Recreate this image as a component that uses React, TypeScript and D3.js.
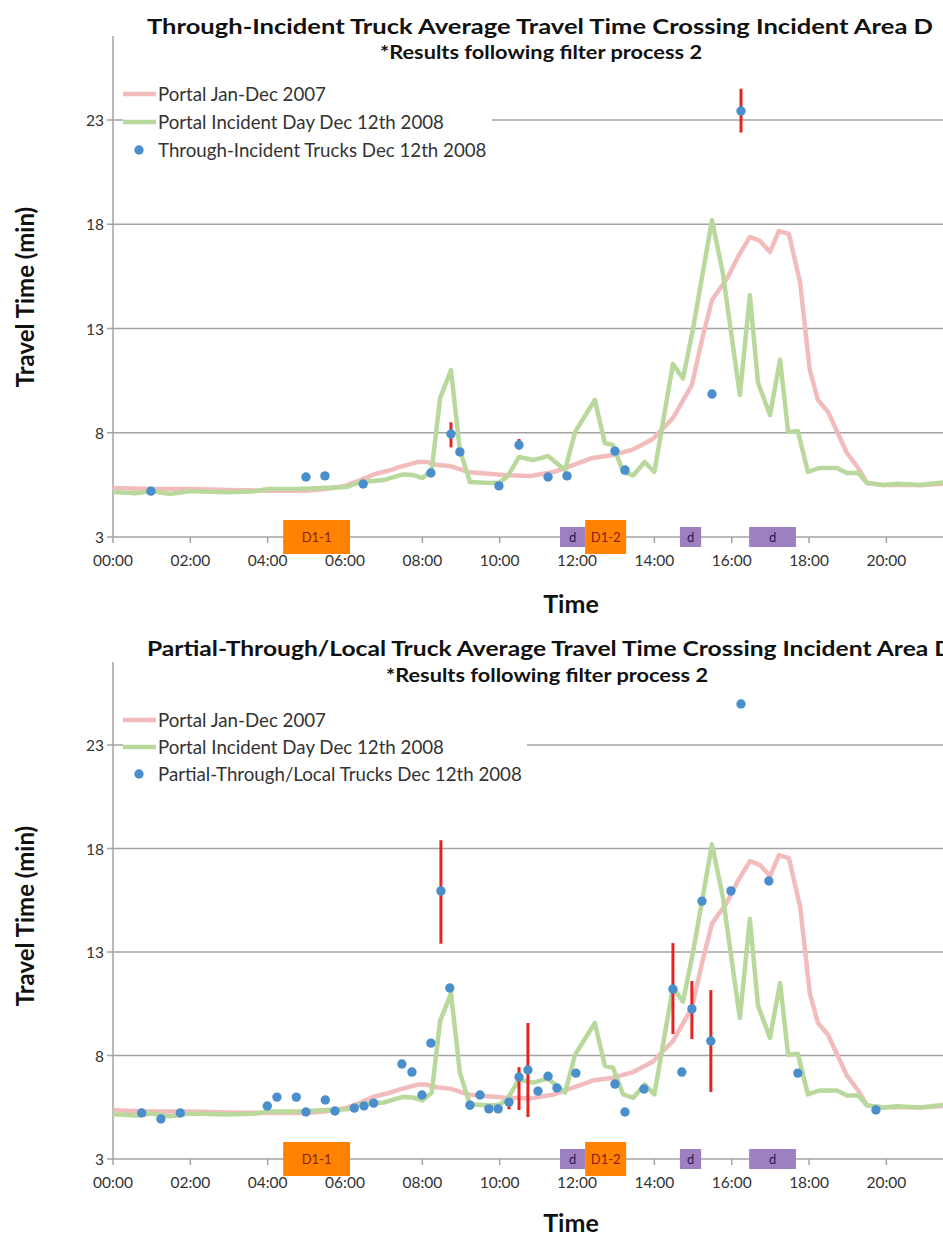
import React from "react";
import * as d3 from "d3";

const FONT = "Lato, 'Open Sans', sans-serif";

// [hour of day, minutes]
const portal2007: [number, number][] = [
  [0, 5.35], [1.0, 5.3], [2.0, 5.3], [3.0, 5.25], [4.0, 5.22], [5.0, 5.22],
  [5.5, 5.3], [6.0, 5.45], [6.4, 5.73], [6.73, 6.0], [7.16, 6.2], [7.42, 6.36],
  [7.9, 6.6], [8.1, 6.6], [8.4, 6.45], [8.72, 6.4], [9.23, 6.1], [10.1, 5.97],
  [10.8, 5.93], [11.4, 6.12], [11.9, 6.45], [12.4, 6.79], [12.93, 6.93],
  [13.45, 7.2], [13.96, 7.7], [14.48, 8.7], [14.97, 10.3], [15.23, 12.45],
  [15.49, 14.37], [15.88, 15.4], [16.16, 16.43], [16.47, 17.39], [16.73, 17.2],
  [16.99, 16.67], [17.22, 17.68], [17.48, 17.53], [17.77, 15.18], [18.02, 11.0],
  [18.23, 9.57], [18.49, 9.0], [18.98, 7.03], [19.27, 6.31], [19.5, 5.59],
  [19.9, 5.5], [20.5, 5.5], [21.0, 5.5], [21.8, 5.6],
];

const portalIncident: [number, number][] = [
  [0, 5.16], [0.6, 5.1], [1.0, 5.2], [1.47, 5.06], [2.0, 5.2], [3.0, 5.15],
  [3.7, 5.2], [4.0, 5.3], [4.75, 5.3], [5.4, 5.35], [6.05, 5.4], [6.4, 5.64],
  [7.0, 5.73], [7.5, 6.0], [7.76, 5.97], [8.0, 5.83], [8.24, 6.2], [8.46, 9.67],
  [8.74, 11.0], [8.97, 7.17], [9.23, 5.64], [9.75, 5.59], [10.0, 5.62],
  [10.2, 5.9], [10.5, 6.84], [10.86, 6.69], [11.25, 6.88], [11.69, 6.21],
  [11.95, 8.04], [12.46, 9.57], [12.72, 7.5], [12.93, 7.41], [13.19, 6.12],
  [13.45, 5.95], [13.75, 6.6], [14.0, 6.12], [14.48, 11.3], [14.74, 10.6],
  [15.0, 13.0], [15.49, 18.2], [15.77, 15.66], [16.21, 9.81], [16.47, 14.6],
  [16.68, 10.4], [16.99, 8.85], [17.25, 11.5], [17.46, 8.04], [17.71, 8.08],
  [17.97, 6.12], [18.28, 6.31], [18.72, 6.31], [18.98, 6.07], [19.27, 6.07],
  [19.5, 5.59], [19.92, 5.49], [20.27, 5.55], [20.87, 5.49], [21.39, 5.6],
  [21.8, 5.65],
];

type Dot = { t: number; v: number; lo?: number; hi?: number };

const throughTrucks: Dot[] = [
  { t: 0.98, v: 5.2 }, { t: 4.99, v: 5.88 }, { t: 5.48, v: 5.93 },
  { t: 6.47, v: 5.54 }, { t: 8.22, v: 6.07 },
  { t: 8.74, v: 7.94, lo: 7.3, hi: 8.5 }, { t: 8.97, v: 7.08 },
  { t: 9.98, v: 5.45 }, { t: 10.5, v: 7.41, lo: 7.2, hi: 7.7 },
  { t: 11.25, v: 5.88 }, { t: 11.74, v: 5.93 }, { t: 12.98, v: 7.12 },
  { t: 13.24, v: 6.21 }, { t: 15.49, v: 9.86 },
  { t: 16.24, v: 23.43, lo: 22.4, hi: 24.5 },
];

const localTrucks: Dot[] = [
  { t: 0.74, v: 5.22 }, { t: 1.24, v: 4.93 }, { t: 1.74, v: 5.22 },
  { t: 3.99, v: 5.56 }, { t: 4.24, v: 5.99 }, { t: 4.74, v: 5.99 },
  { t: 4.99, v: 5.27 }, { t: 5.49, v: 5.85 }, { t: 5.74, v: 5.32 },
  { t: 6.24, v: 5.46 }, { t: 6.49, v: 5.56 }, { t: 6.74, v: 5.7 },
  { t: 7.47, v: 7.59 }, { t: 7.73, v: 7.2 }, { t: 7.99, v: 6.09 },
  { t: 8.22, v: 8.6 }, { t: 8.48, v: 15.95, lo: 13.4, hi: 18.4 },
  { t: 8.71, v: 11.26 }, { t: 9.23, v: 5.6 }, { t: 9.49, v: 6.09 },
  { t: 9.72, v: 5.42 }, { t: 9.96, v: 5.42 },
  { t: 10.24, v: 5.75, lo: 5.4, hi: 5.95 },
  { t: 10.5, v: 6.96, lo: 5.37, hi: 7.44 },
  { t: 10.73, v: 7.3, lo: 5.03, hi: 9.57 },
  { t: 10.99, v: 6.28 }, { t: 11.25, v: 7.0 }, { t: 11.48, v: 6.43 },
  { t: 11.97, v: 7.15 }, { t: 12.98, v: 6.62 }, { t: 13.24, v: 5.27 },
  { t: 13.73, v: 6.38 }, { t: 14.48, v: 11.21, lo: 9.04, hi: 13.43 },
  { t: 14.71, v: 7.2 }, { t: 14.97, v: 10.25, lo: 8.8, hi: 11.6 },
  { t: 15.23, v: 15.46 }, { t: 15.46, v: 8.7, lo: 6.24, hi: 11.16 },
  { t: 15.98, v: 15.95 }, { t: 16.24, v: 24.98 }, { t: 16.96, v: 16.43 },
  { t: 17.71, v: 7.15 }, { t: 19.73, v: 5.37 },
];

// incident periods on the time axis
const incidentLabels = ["D1-1", "d", "D1-2", "d", "d"];
const incidentStart = [4.4, 11.56, 12.21, 14.66, 16.45];
const incidentEnd = [6.13, 12.21, 13.27, 15.21, 17.66];
const incidentMajor = [true, false, true, false, false];

const yTicks = [3, 8, 13, 18, 23];
const xTicks = d3.range(0, 24, 2);
const xLabels = d3.range(0, 22, 2); // 22:00 falls past the cropped edge

const PINK = "#f2bcbc";
const GREEN = "#b8d89c";
const BLUE = "#4a8fcc";
const RED = "#e52421";
const GRID = "#a3a3a3";

function Panel({ cfg, dots, dotLabel }) {
  const x = d3.scaleLinear().domain([0, 24]).range([113, 113 + 24 * 38.67]);
  const y = d3.scaleLinear().domain([3, 23]).range([cfg.y3, cfg.y23]);
  const line = d3
    .line<[number, number]>()
    .x((d) => x(d[0]))
    .y((d) => y(d[1]));
  const fmt = (h) => d3.format("02")(h) + ":00";
  const base = y(3);

  return (
    <g>
      <text x={cfg.titleX} y={cfg.titleY} fontFamily={FONT} fontWeight="bold"
        fontSize={21} fill="#111" textLength={cfg.titleW} lengthAdjust="spacingAndGlyphs"
        dominantBaseline="central">{cfg.title}</text>
      <text x={cfg.subX} y={cfg.subY} fontFamily={FONT} fontWeight="bold"
        fontSize={18} fill="#111" textLength={322} lengthAdjust="spacingAndGlyphs"
        dominantBaseline="central">
        *Results following filter process 2
      </text>

      {/* grid */}
      {yTicks.slice(1).map((t) => (
        <line key={t} x1={113} x2={943} y1={y(t)} y2={y(t)} stroke={GRID} strokeWidth={1.5} />
      ))}
      <line x1={113} x2={943} y1={base} y2={base} stroke={GRID} strokeWidth={1.5} />
      <line x1={113} x2={113} y1={cfg.axisTop} y2={base} stroke={GRID} strokeWidth={1.5} />
      {yTicks.map((t) => (
        <g key={t}>
          <line x1={107} x2={113} y1={y(t)} y2={y(t)} stroke={GRID} strokeWidth={1.5} />
          <text x={104} y={y(t)} textAnchor="end" dominantBaseline="central"
            fontFamily={FONT} fontSize={15.5} fill="#333">{t}</text>
        </g>
      ))}
      {xTicks.map((h) => (
        <line key={h} x1={x(h)} x2={x(h)} y1={base} y2={base + 6} stroke={GRID} strokeWidth={1.5} />
      ))}
      {xLabels.map((h) => (
        <text key={h} x={x(h)} y={base + 23} textAnchor="middle" dominantBaseline="central"
          fontFamily={FONT} fontSize={15.5} fill="#333">{fmt(h)}</text>
      ))}

      {/* incident periods */}
      {incidentLabels.map((lab, i) => {
        const h = incidentMajor[i] ? 34 : 20;
        const x0 = x(incidentStart[i]);
        const x1 = x(incidentEnd[i]);
        return (
          <g key={i}>
            <rect x={x0} y={base - h / 2} width={x1 - x0} height={h}
              fill={incidentMajor[i] ? "#ff8300" : "#9c80c2"} />
            <text x={(x0 + x1) / 2} y={base} textAnchor="middle" dominantBaseline="central"
              fontFamily={FONT} fontSize={13} fill={incidentMajor[i] ? "#8a1d12" : "#2b1850"}>
              {lab}
            </text>
          </g>
        );
      })}

      {/* series */}
      <path d={line(portal2007)} fill="none" stroke={PINK} strokeWidth={4.5} strokeLinejoin="round" />
      <path d={line(portalIncident)} fill="none" stroke={GREEN} strokeWidth={4.5} strokeLinejoin="round" />
      {dots.filter((d) => d.lo != null).map((d, i) => (
        <line key={i} x1={x(d.t)} x2={x(d.t)} y1={y(d.lo)} y2={y(d.hi)} stroke={RED} strokeWidth={3} />
      ))}
      {dots.map((d, i) => (
        <circle key={i} cx={x(d.t)} cy={y(d.v)} r={4.7} fill={BLUE} />
      ))}

      {/* legend */}
      <rect x={123} y={cfg.legendY - 14} width={cfg.legendRight - 123} height={cfg.legendGap * 2 + 28} fill="#fff" />
      {[
        { label: "Portal Jan-Dec 2007", color: PINK },
        { label: "Portal Incident Day Dec 12th 2008", color: GREEN },
        { label: dotLabel, color: null },
      ].map((e, i) => {
        const ly = cfg.legendY + i * cfg.legendGap;
        return (
          <g key={i}>
            {e.color ? (
              <line x1={123} x2={156} y1={ly} y2={ly} stroke={e.color} strokeWidth={4.5} />
            ) : (
              <circle cx={139} cy={ly} r={4.7} fill={BLUE} />
            )}
            <text x={158} y={ly} dominantBaseline="central" fontFamily={FONT}
              fontSize={18.7} fill="#333">{e.label}</text>
          </g>
        );
      })}

      {/* axis titles */}
      <text transform={`translate(24,${cfg.yLabelY}) rotate(-90)`} textAnchor="middle"
        dominantBaseline="central" fontFamily={FONT} fontWeight="bold" fontSize={24} fill="#111">
        Travel Time (min)
      </text>
      <text x={571} y={cfg.timeY} textAnchor="middle" dominantBaseline="central"
        fontFamily={FONT} fontWeight="bold" fontSize={25} fill="#111">Time</text>
    </g>
  );
}

const topCfg = {
  title: "Through-Incident Truck Average Travel Time Crossing Incident Area D",
  titleX: 147, titleY: 25, titleW: 786, subX: 380, subY: 52,
  axisTop: 36, y23: 120, y3: 537, legendY: 94, legendGap: 28, legendRight: 492,
  yLabelY: 297, timeY: 603,
};

const bottomCfg = {
  title: "Partial-Through/Local Truck Average Travel Time Crossing Incident Area D",
  titleX: 147, titleY: 647, titleW: 806, subX: 386, subY: 675,
  axisTop: 662, y23: 745, y3: 1159, legendY: 720, legendGap: 27, legendRight: 527,
  yLabelY: 916, timeY: 1222,
};

export default function App() {
  return (
    <div style={{ position: "absolute", left: 0, top: 0 }}>
      <svg width={943} height={1237} style={{ display: "block", background: "#fff" }}>
        <Panel cfg={topCfg} dots={throughTrucks} dotLabel="Through-Incident Trucks Dec 12th 2008" />
        <Panel cfg={bottomCfg} dots={localTrucks} dotLabel="Partial-Through/Local Trucks Dec 12th 2008" />
      </svg>
    </div>
  );
}
